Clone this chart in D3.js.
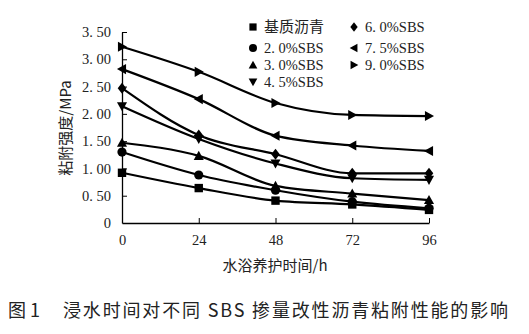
<!DOCTYPE html>
<html><head><meta charset="utf-8">
<script src="https://cdn.jsdelivr.net/npm/d3@7"></script>
<style>
body{margin:0;background:#fff;}
svg{display:block;}
</style></head>
<body>
<svg id="c" width="529" height="334"></svg>
<script>
const hours = [0, 24, 48, 72, 96];
const seriesNames = ["基质沥青", "2. 0%SBS", "3. 0%SBS", "4. 5%SBS", "6. 0%SBS", "7. 5%SBS", "9. 0%SBS"];
const baseAsphalt = [0.92, 0.64, 0.41, 0.34, 0.24];
const sbs20 = [1.30, 0.88, 0.60, 0.39, 0.27];
const sbs30 = [1.47, 1.23, 0.68, 0.54, 0.42];
const sbs45 = [2.14, 1.54, 1.09, 0.82, 0.79];
const sbs60 = [2.47, 1.61, 1.26, 0.91, 0.91];
const sbs75 = [2.82, 2.27, 1.60, 1.42, 1.32];
const sbs90 = [3.23, 2.77, 2.20, 1.98, 1.96];
const yTicks = [0, 0.5, 1.0, 1.5, 2.0, 2.5, 3.0, 3.5];
const xLabel = "水浴养护时间/h";
const yLabel = "粘附强度/MPa";
const captionNo = "图 1";
const caption = "浸水时间对不同 SBS 掺量改性沥青粘附性能的影响";

const seriesValues = [baseAsphalt, sbs20, sbs30, sbs45, sbs60, sbs75, sbs90];
const markerKinds = ["square", "circle", "up", "down", "diamond", "left", "right"];

const svg = d3.select("#c");
const serif = "'Liberation Serif','DejaVu Serif',serif";
const cjk = "'Noto Sans CJK SC','Noto Sans',sans-serif";

const x = d3.scaleLinear().domain([0, 96]).range([122, 429]);
const y = d3.scaleLinear().domain([0, 3.5]).range([223, 32]);

const yAxis = d3.axisLeft(y).tickValues(yTicks).tickSizeInner(-5).tickSizeOuter(0).tickPadding(11)
  .tickFormat(d => d === 0 ? "0" : d3.format(".2f")(d).replace(".", ". "));
const xAxis = d3.axisBottom(x).tickValues(hours).tickSizeInner(-5).tickSizeOuter(0).tickPadding(12);

const gy = svg.append("g").attr("transform", "translate(122,0)").call(yAxis);
const gx = svg.append("g").attr("transform", "translate(0,223)").call(xAxis);
[gx, gy].forEach(g => {
  g.select(".domain").attr("stroke", "#000").attr("stroke-width", 1.3);
  g.selectAll(".tick line").attr("stroke", "#000").attr("stroke-width", 1);
  g.selectAll(".tick text").attr("font-family", serif).attr("font-size", 14.5).attr("fill", "#222");
});
gx.selectAll(".tick").filter(d => d === 0).select("line").remove();
gy.selectAll(".tick").filter(d => d === 0).select("line").remove();

const line = d3.line().x((d, i) => x(hours[i])).y(d => y(d)).curve(d3.curveMonotoneX);

function marker(g, kind, cx, cy, s) {
  s = s || 4.2;
  let p;
  if (kind === "square") {
    g.append("rect").attr("x", cx - s).attr("y", cy - s).attr("width", 2 * s).attr("height", 2 * s).attr("fill", "#000");
    return;
  }
  if (kind === "circle") {
    g.append("circle").attr("cx", cx).attr("cy", cy).attr("r", s + 0.4).attr("fill", "#000");
    return;
  }
  const t = s * 1.2;
  if (kind === "up") p = [[cx, cy - t], [cx - t, cy + t * 0.8], [cx + t, cy + t * 0.8]];
  if (kind === "down") p = [[cx, cy + t], [cx - t, cy - t * 0.8], [cx + t, cy - t * 0.8]];
  if (kind === "left") p = [[cx - t, cy], [cx + t * 0.8, cy - t], [cx + t * 0.8, cy + t]];
  if (kind === "right") p = [[cx + t, cy], [cx - t * 0.8, cy - t], [cx - t * 0.8, cy + t]];
  if (kind === "diamond") p = [[cx, cy - t * 1.1], [cx + t * 0.85, cy], [cx, cy + t * 1.1], [cx - t * 0.85, cy]];
  g.append("polygon").attr("points", p.map(q => q.join(",")).join(" ")).attr("fill", "#000");
}

const plot = svg.append("g");
seriesValues.forEach((vals, si) => {
  plot.append("path").attr("d", line(vals)).attr("fill", "none").attr("stroke", "#000").attr("stroke-width", 2.2);
});
seriesValues.forEach((vals, si) => {
  vals.forEach((v, i) => marker(plot, markerKinds[si], x(hours[i]), y(v)));
});

// legend
const leg = svg.append("g");
const legPos = [[253, 27], [253, 48], [253, 65], [253, 82], [354, 27], [354, 48], [354, 65]];
seriesNames.forEach((n, i) => {
  const [lx, ly] = legPos[i];
  marker(leg, markerKinds[i], lx, ly, 3.6);
  leg.append("text").attr("x", lx + 11).attr("y", ly + 5).text(n)
    .attr("font-family", i === 0 ? cjk : serif).attr("font-size", i === 0 ? 15 : 14.5).attr("fill", "#222");
});

svg.append("text").attr("x", 275).attr("y", 271).attr("text-anchor", "middle")
  .attr("font-family", cjk).attr("font-size", 15).attr("fill", "#222").text(xLabel);
svg.append("text").attr("transform", "translate(71,128) rotate(-90)").attr("text-anchor", "middle")
  .attr("font-family", cjk).attr("font-size", 15).attr("fill", "#222").text(yLabel);

svg.append("text").attr("x", 8).attr("y", 317)
  .attr("font-family", cjk).attr("font-size", 18).attr("fill", "#222").text(captionNo);
svg.append("text").attr("x", 63).attr("y", 317).attr("textLength", 445).attr("lengthAdjust", "spacing")
  .attr("font-family", cjk).attr("font-size", 18).attr("fill", "#222").text(caption);
</script>
</body></html>
